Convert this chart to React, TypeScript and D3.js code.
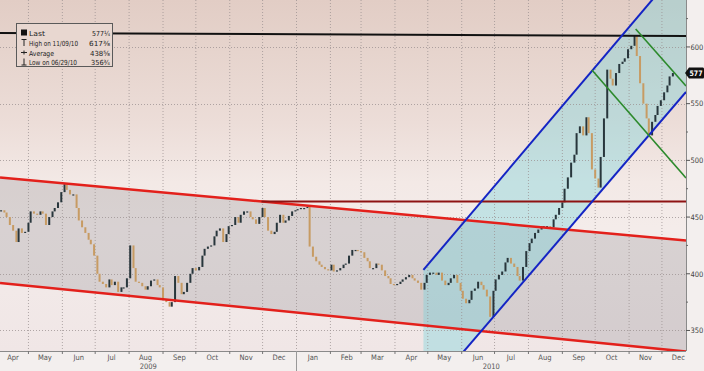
import React from 'react';
import * as d3 from 'd3';

const WIDTH = 704;
const HEIGHT = 371;
const PLOT_RIGHT = 686;
const PLOT_BOTTOM = 351;

const firstCandleDate = '2009-04-06';
const candleStepDays = 2.742;
const closes: number[] = [
  456, 454, 450, 443, 438, 428, 440, 436, 437, 445,
  455, 453, 452, 455, 453, 443, 450, 455, 458, 463,
  472, 479, 474, 470, 470, 458, 447, 441, 436, 430,
  426, 416, 400, 393, 391, 388, 395, 390, 393, 384,
  388, 388, 396, 425, 405, 393, 392, 389, 386, 389,
  394, 395, 390, 388, 377, 375, 371, 375, 398, 392,
  382, 384, 392, 400, 405, 403, 406, 416, 422, 424,
  425, 433, 438, 440, 428, 435, 442, 443, 450, 445,
  452, 455, 455, 450, 448, 444, 450, 458, 450, 438,
  435, 437, 445, 452, 445, 447, 451, 455, 456, 457,
  458, 458, 459, 424, 415, 411, 408, 406, 404, 403,
  408, 402, 403, 405, 408, 409, 416, 421, 421, 420,
  419, 414, 411, 405, 405, 409, 408, 403, 398, 396,
  391, 390, 391, 393, 395, 397, 399, 396, 394, 392,
  386, 392, 399, 401, 401, 399, 401, 394, 390, 392,
  396, 399, 392, 385, 378, 374, 377, 385, 387, 393,
  390, 386, 380, 362, 385, 395, 399, 402, 410, 414,
  409, 406, 398, 394, 406, 420, 427, 431, 436, 439,
  442, 442, 442, 441, 448, 452, 458, 463, 475, 485,
  498, 505, 524, 530, 522, 538, 524, 492, 484, 476,
  503, 537, 580, 572, 566, 577, 585, 587, 590, 598,
  601, 610, 592, 568, 550, 537, 522, 534, 540, 548,
  553, 560, 566, 574, 577,
];

const lastPrice = '577';
const yMajorTicks = [350, 400, 450, 500, 550, 600];
const yMinorTicks = [375, 425, 475, 525, 575, 625];

const legendLabels = ['Last', 'High on 11/09/10', 'Average', 'Low on 06/29/10'];
const legendValues = ['577¼', '617⅜', '438⅝', '356¾'];

// drawn trend lines: [date, price]
const redUpper: [string, number][] = [['2009-04-05', 484.9], ['2010-12-23', 429.3]];
const redLower: [string, number][] = [['2009-04-05', 391.9], ['2010-12-23', 331.4]];
const resistance: [string, number][] = [['2009-11-30', 463.8], ['2010-12-23', 463.8]];
const blackLine: [string, number][] = [['2009-04-05', 612.3], ['2010-12-23', 609.7]];
const blueUpper: [string, number][] = [['2010-04-27', 403.4], ['2010-11-22', 641.4]];
const blueLower: [string, number][] = [['2010-06-04', 332.8], ['2010-12-23', 560.3]];
const greenUpper: [string, number][] = [['2010-11-07', 615.9], ['2010-12-23', 565.6]];
const greenLower: [string, number][] = [['2010-09-28', 579.7], ['2010-12-23', 484.5]];

const parse = d3.timeParse('%Y-%m-%d');

const FONT = "'DejaVu Sans Condensed', 'DejaVu Sans', sans-serif";
const NARROW = "'Liberation Sans Narrow', 'DejaVu Sans Condensed', sans-serif";

export default function App() {
  const x = d3.scaleTime()
    .domain([parse('2009-04-05')!, parse('2010-12-23')!])
    .range([0, PLOT_RIGHT]);
  const y = d3.scaleLinear().domain([331.9, 641.4]).range([PLOT_BOTTOM, 0]);

  const toPx = (l: [string, number][]) => l.map(([d, v]) => [x(parse(d)!), y(v)] as [number, number]);
  const yAt = (pts: [number, number][], xx: number) =>
    pts[0][1] + ((pts[1][1] - pts[0][1]) * (xx - pts[0][0])) / (pts[1][0] - pts[0][0]);
  const lineGen = d3.line<[number, number]>();

  const ru = toPx(redUpper);
  const rl = toPx(redLower);
  const bu = toPx(blueUpper);
  const bl = toPx(blueLower);
  const gu = toPx(greenUpper);
  const gl = toPx(greenLower);
  const rs = toPx(resistance);
  const bk = toPx(blackLine);

  const grayPoly: [number, number][] = [
    [0, yAt(ru, 0)], [PLOT_RIGHT, yAt(ru, PLOT_RIGHT)],
    [PLOT_RIGHT, yAt(rl, PLOT_RIGHT)], [0, yAt(rl, 0)],
  ];
  const cx0 = bu[0][0];
  const cyanPoly: [number, number][] = [
    [cx0, yAt(bu, cx0)], [PLOT_RIGHT, yAt(bu, PLOT_RIGHT)],
    [PLOT_RIGHT, yAt(bl, PLOT_RIGHT)], [cx0, yAt(bl, cx0)],
  ];
  const polyPath = (p: [number, number][]) => lineGen(p) + 'Z';

  const start = parse(firstCandleDate)!;
  const candles = closes.map((c, i) => {
    const o = i === 0 ? c : closes[i - 1];
    return { date: d3.timeDay.offset(start, Math.round(i * candleStepDays)), o, c };
  });

  const monthBounds = d3.timeMonth.range(new Date(2009, 4, 1), new Date(2010, 11, 2));
  const months = d3.timeMonth.range(new Date(2009, 3, 1), new Date(2010, 11, 2));
  const fmtMonth = d3.timeFormat('%b');
  const yearSplit = x(new Date(2010, 0, 1));

  const legendRowsY = [32.5, 42.5, 52.5, 62];
  const labelWidths = [16, 49, 25, 48];
  const valueWidths = [18, 21, 20, 19];

  const tagY = y(577);

  return (
    <div style={{ position: 'absolute', left: 0, top: 0 }}>
      <svg width={WIDTH} height={HEIGHT} style={{ display: 'block' }} fontFamily={FONT}>
        <defs>
          <linearGradient id="bg" x1="0" y1="0" x2="0" y2="1">
            <stop offset="0" stopColor="#e2cdc5" />
            <stop offset="0.15" stopColor="#e6d4cd" />
            <stop offset="0.35" stopColor="#ecddd8" />
            <stop offset="0.52" stopColor="#f3e9e6" />
            <stop offset="0.65" stopColor="#f4ecea" />
            <stop offset="1" stopColor="#f0e6e6" />
          </linearGradient>
          <clipPath id="plot">
            <rect x={0} y={0} width={PLOT_RIGHT} height={PLOT_BOTTOM} />
          </clipPath>
        </defs>
        <rect x={0} y={0} width={WIDTH} height={HEIGHT} fill="#f3efee" />
        <rect x={0} y={0} width={PLOT_RIGHT} height={PLOT_BOTTOM} fill="url(#bg)" />
        <g clipPath="url(#plot)">
          <path d={polyPath(grayPoly)} fill="rgba(105,105,115,0.2)" />
          <path d={polyPath(cyanPoly)} fill="rgba(110,212,218,0.36)" />
          {monthBounds.map((m, i) => (
            <line key={'vg' + i} x1={x(m)} x2={x(m)} y1={0} y2={PLOT_BOTTOM}
              stroke="#9a9090" strokeWidth={1} strokeDasharray="1,2" opacity={0.75} />
          ))}
          {yMajorTicks.map((t) => (
            <line key={'hg' + t} x1={0} x2={PLOT_RIGHT} y1={Math.round(y(t)) + 0.5} y2={Math.round(y(t)) + 0.5}
              stroke="#9a9090" strokeWidth={1} strokeDasharray="1,2" opacity={0.75} />
          ))}
          {candles.map((d, i) => {
            const cxp = x(d.date);
            const y1 = y(Math.max(d.o, d.c));
            const y2 = y(Math.min(d.o, d.c));
            const up = d.c >= d.o;
            return (
              <rect key={'c' + i} x={cxp - 1} y={y1} width={2} height={Math.max(1.2, y2 - y1)}
                fill={up ? '#28363c' : '#c79b63'} />
            );
          })}
          <path d={lineGen(ru)!} stroke="#e3201b" strokeWidth={2.5} fill="none" />
          <path d={lineGen(rl)!} stroke="#e3201b" strokeWidth={2.5} fill="none" />
          <path d={lineGen(rs)!} stroke="#8e1212" strokeWidth={2} fill="none" />
          <path d={lineGen(bk)!} stroke="#111" strokeWidth={2} fill="none" />
          <path d={lineGen([bu[0], [PLOT_RIGHT, yAt(bu, PLOT_RIGHT)]])!} stroke="#1424c4" strokeWidth={2} fill="none" />
          <path d={lineGen([[cx0, yAt(bl, cx0)], [PLOT_RIGHT, yAt(bl, PLOT_RIGHT)]])!} stroke="#1424c4" strokeWidth={2} fill="none" />
          <path d={lineGen(gu)!} stroke="#2c8a2c" strokeWidth={1.6} fill="none" />
          <path d={lineGen(gl)!} stroke="#2c8a2c" strokeWidth={1.6} fill="none" />
        </g>

        {/* right axis */}
        <line x1={PLOT_RIGHT + 0.5} x2={PLOT_RIGHT + 0.5} y1={0} y2={PLOT_BOTTOM} stroke="#8a8a8a" />
        {yMajorTicks.map((t) => (
          <g key={'yt' + t}>
            <line x1={PLOT_RIGHT} x2={PLOT_RIGHT + 4} y1={y(t)} y2={y(t)} stroke="#555" />
            <text x={PLOT_RIGHT + 4.5} y={y(t) + 2.8} fontSize={7.5} fill="#444">{t}</text>
          </g>
        ))}
        {yMinorTicks.map((t) => (
          <line key={'ym' + t} x1={PLOT_RIGHT} x2={PLOT_RIGHT + 2} y1={y(t)} y2={y(t)} stroke="#666" />
        ))}
        <path
          d={`M${PLOT_RIGHT - 1},${tagY} L${PLOT_RIGHT + 3},${tagY - 5.5} L${WIDTH - 1},${tagY - 5.5} Q${WIDTH},${tagY - 5.5} ${WIDTH},${tagY - 4} L${WIDTH},${tagY + 4} Q${WIDTH},${tagY + 5.5} ${WIDTH - 1},${tagY + 5.5} L${PLOT_RIGHT + 3},${tagY + 5.5} Z`}
          fill="#111" />
        <text x={PLOT_RIGHT + 3.5} y={tagY + 2.8} fontSize={7.5} fill="#fff" fontWeight="bold"
          fontFamily={NARROW} textLength={13} lengthAdjust="spacingAndGlyphs">{lastPrice}</text>

        {/* bottom axis */}
        <line x1={0} x2={PLOT_RIGHT} y1={PLOT_BOTTOM + 0.5} y2={PLOT_BOTTOM + 0.5} stroke="#8a8a8a" />
        {monthBounds.map((m, i) => (
          <line key={'xt' + i} x1={x(m)} x2={x(m)} y1={PLOT_BOTTOM} y2={PLOT_BOTTOM + 3} stroke="#777" />
        ))}
        <line x1={yearSplit} x2={yearSplit} y1={PLOT_BOTTOM} y2={HEIGHT} stroke="#999" />
        {months.map((m, i) => {
          const mid = Math.max(13, x(d3.timeDay.offset(m, 15)));
          return (
            <text key={'ml' + i} x={mid} y={PLOT_BOTTOM + 9} fontSize={7.5} fill="#555" textAnchor="middle">
              {fmtMonth(m)}
            </text>
          );
        })}
        <text x={yearSplit / 2} y={HEIGHT - 2} fontSize={7.5} fill="#555" textAnchor="middle">2009</text>
        <text x={(yearSplit + PLOT_RIGHT) / 2} y={HEIGHT - 2} fontSize={7.5} fill="#555" textAnchor="middle">2010</text>

        {/* legend */}
        <rect x={16.5} y={23.5} width={96} height={43} fill="#e8d7d0" stroke="#5a5a5a" />
        <rect x={21} y={29.5} width={6} height={6} fill="#111" />
        <path d="M21.5,39.5 H26.5 M24,39.5 V46" stroke="#222" fill="none" />
        <path d="M21,52.5 H27 M24,50.5 V54.5" stroke="#222" fill="none" />
        <path d="M24,58.5 V65 M21.5,65 H26.5" stroke="#222" fill="none" />
        {legendLabels.map((l, i) => (
          <text key={'ll' + i} x={29} y={legendRowsY[i] + 3} fontSize={7} fill="#222" fontFamily={NARROW}
            textLength={labelWidths[i]} lengthAdjust="spacingAndGlyphs">{l}</text>
        ))}
        {legendValues.map((v, i) => (
          <text key={'lv' + i} x={110 - valueWidths[i]} y={legendRowsY[i] + 3} fontSize={7} fill="#222" fontFamily={NARROW}
            textLength={valueWidths[i]} lengthAdjust="spacingAndGlyphs">{v}</text>
        ))}
      </svg>
    </div>
  );
}
